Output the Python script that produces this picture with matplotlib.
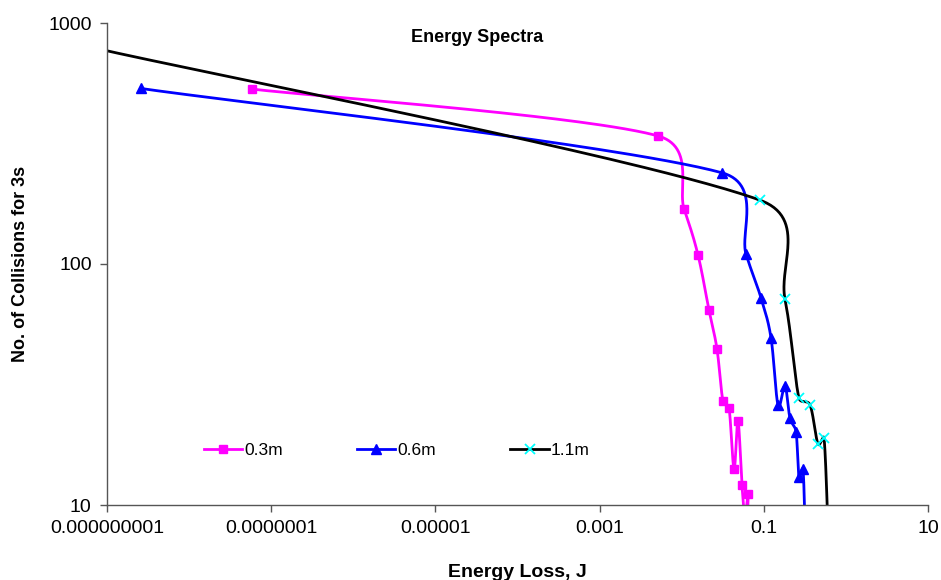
import numpy as np
import matplotlib
matplotlib.use("Agg")
import matplotlib.pyplot as plt
from matplotlib.lines import Line2D
from matplotlib.ticker import FixedLocator, FixedFormatter, NullLocator

plt.rcParams['font.family'] = ['Liberation Sans', 'DejaVu Sans']

# Collision energy spectra for three drop heights
series_labels = ["0.3m", "0.6m", "1.1m"]

energy_03 = [5.8e-8, 0.00514, 0.0107, 0.0158, 0.0215, 0.0269, 0.0318, 0.0377,
             0.0434, 0.0485, 0.0542, 0.059, 0.0643, 0.0625]
counts_03 = [532, 340, 169, 109, 64.4, 44.4, 27.0, 25.3,
             14.1, 22.3, 12.1, 9, 11.1, 8]

energy_06 = [2.6e-9, 0.031, 0.0607, 0.0925, 0.1225, 0.149, 0.181, 0.208,
             0.247, 0.268, 0.30, 0.318]
counts_06 = [535, 239, 110, 72.3, 49.3, 26.0, 31.2, 23.0,
             20.1, 13.1, 14.1, 8]

energy_11 = [8e-10, 0.090, 0.181, 0.268, 0.366, 0.457, 0.541, 0.605]
counts_11 = [780, 184, 71.6, 27.8, 26.0, 17.9, 19.0, 8]

x_ticks = [1e-9, 1e-7, 1e-5, 1e-3, 1e-1, 10]
x_tick_labels = ["0.000000001", "0.0000001", "0.00001", "0.001", "0.1", "10"]
y_ticks = [10, 100, 1000]
y_tick_labels = ["10", "100", "1000"]

W, H = 941, 580
fig = plt.figure(figsize=(W / 100, H / 100), dpi=100)
ax = fig.add_axes([107 / W, 1 - 505 / H, 821 / W, 482 / H])
ax.set_xscale('log')
ax.set_yscale('log')
ax.set_xlim(1e-9, 10)
ax.set_ylim(10, 1000)


def smooth_curve(ax, xs, ys, n=60):
    """Bezier smoothing in display space with limited control-point reach."""
    pts = ax.transData.transform(np.column_stack([xs, ys]))
    m = len(pts)
    out = [pts[0]]
    t = np.linspace(0, 1, n)[1:, None]
    for i in range(m - 1):
        p0 = pts[i - 1] if i > 0 else pts[i]
        p1 = pts[i]
        p2 = pts[i + 1]
        p3 = pts[i + 2] if i + 2 < m else pts[i + 1]
        d12 = np.hypot(*(p2 - p1))
        d02 = np.hypot(*(p2 - p0))
        d13 = np.hypot(*(p3 - p1))
        f1 = 1 / 6 if (d02 == 0 or d02 / 6 < d12 / 2) else d12 / (2 * d02)
        f2 = 1 / 6 if (d13 == 0 or d13 / 6 < d12 / 2) else d12 / (2 * d13)
        c1 = p1 + f1 * (p2 - p0)
        c2 = p2 - f2 * (p3 - p1)
        seg = ((1 - t) ** 3) * p1 + 3 * ((1 - t) ** 2) * t * c1 \
            + 3 * (1 - t) * t ** 2 * c2 + t ** 3 * p2
        out.extend(seg)
    data = ax.transData.inverted().transform(np.array(out))
    return data[:, 0], data[:, 1]


styles = [
    dict(color='#FF00FF', marker='s', ms=6, mfc='#FF00FF', mec='#FF00FF', mew=1),
    dict(color='#0000FF', marker='^', ms=7, mfc='#0000FF', mec='#0000FF', mew=1),
    dict(color='#000000', marker='x', ms=7, mfc='none', mec='#00FFFF', mew=1.3),
]
datasets = [(energy_03, counts_03), (energy_06, counts_06), (energy_11, counts_11)]

handles = []
for (xs, ys), st, lab in zip(datasets, styles, series_labels):
    sx, sy = smooth_curve(ax, xs, ys)
    ax.plot(sx, sy, color=st['color'], lw=2.0, solid_joinstyle='round', zorder=2)
    ax.plot(xs, ys, linestyle='none', marker=st['marker'], ms=st['ms'],
            mfc=st['mfc'], mec=st['mec'], mew=st['mew'], zorder=3)
    handles.append(Line2D([], [], color=st['color'], lw=2.0, marker=st['marker'],
                          ms=st['ms'], mfc=st['mfc'], mec=st['mec'], mew=st['mew']))

ax.xaxis.set_major_locator(FixedLocator(x_ticks))
ax.xaxis.set_major_formatter(FixedFormatter(x_tick_labels))
ax.yaxis.set_major_locator(FixedLocator(y_ticks))
ax.yaxis.set_major_formatter(FixedFormatter(y_tick_labels))
ax.xaxis.set_minor_locator(NullLocator())
ax.yaxis.set_minor_locator(NullLocator())

for side in ('top', 'right'):
    ax.spines[side].set_visible(False)
for side in ('left', 'bottom'):
    ax.spines[side].set_color('#555555')
    ax.spines[side].set_linewidth(1.0)
ax.tick_params(axis='both', which='major', direction='out', length=5,
               width=1.0, color='#555555', labelsize=14, pad=6)

ax.set_xlabel("Energy Loss, J", fontsize=14, fontweight='bold', labelpad=19)
ax.set_ylabel("No. of Collisions for 3s", fontsize=13, fontweight='bold', labelpad=14)
fig.text(477 / W, 1 - 38 / H, "Energy Spectra", fontsize=13, fontweight='bold',
         ha='center', va='center')

leg = fig.legend(handles=handles, labels=series_labels, ncol=3, frameon=False,
                 loc='center left', bbox_to_anchor=(204 / W, 1 - 450 / H),
                 fontsize=12.5, handlelength=2.2, handletextpad=0.1,
                 columnspacing=4.3, borderpad=0, borderaxespad=0, numpoints=1)

fig.savefig("out.png", dpi=100)
